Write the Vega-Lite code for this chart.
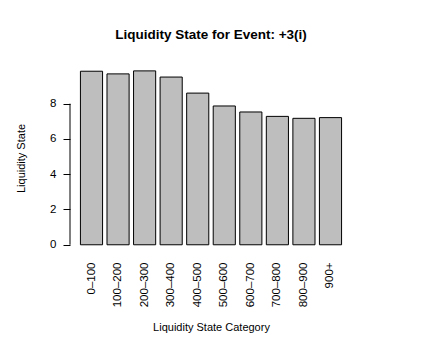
{
  "$schema": "https://vega.github.io/schema/vega-lite/v6.json",
  "width": 282,
  "height": 188,
  "autosize": "none",
  "padding": {"left": 70, "top": 64, "right": 71, "bottom": 101},
  "background": "white",
  "config": {"view": {"stroke": null}, "font": "Liberation Sans"},
  "title": {"text": "Liquidity State for Event: +3(i)", "font": "Liberation Sans", "fontSize": 13.5, "fontWeight": "bold", "color": "#000", "anchor": "middle", "baseline": "alphabetic", "offset": 12},
  "layer": [
    {
      "data": {"values": [
        {"category": "0–100", "value": 9.84},
        {"category": "100–200", "value": 9.69},
        {"category": "200–300", "value": 9.86},
        {"category": "300–400", "value": 9.51},
        {"category": "400–500", "value": 8.60},
        {"category": "500–600", "value": 7.87},
        {"category": "600–700", "value": 7.53},
        {"category": "700–800", "value": 7.28},
        {"category": "800–900", "value": 7.17},
        {"category": "900+", "value": 7.21}
      ]},
      "mark": {"type": "bar", "fill": "#BEBEBE", "stroke": "#000", "strokeWidth": 1},
      "encoding": {
        "x": {"field": "category", "type": "nominal", "sort": null,
          "scale": {"paddingInner": 0.1667, "paddingOuter": 0.393},
          "axis": {"title": "Liquidity State Category", "labelAngle": -90, "ticks": false, "domain": false, "labelPadding": 10,
            "labelFontSize": 11.5, "labelColor": "#000", "titleFontSize": 11, "titleFontWeight": "normal", "titleColor": "#000", "titlePadding": 15}},
        "y": {"field": "value", "type": "quantitative",
          "scale": {"domain": [-0.41, 10.25], "nice": false, "zero": false},
          "axis": {"title": "Liquidity State", "values": [0, 2, 4, 6, 8], "domain": false, "grid": false, "tickSize": 7, "tickColor": "#000",
            "labelAngle": 0, "labelPadding": 7, "labelFontSize": 11.5, "labelColor": "#000",
            "titleFontSize": 11, "titleFontWeight": "normal", "titleColor": "#000", "titlePadding": 23}},
        "y2": {"datum": 0}
      }
    },
    {
      "data": {"values": [{"lo": 0, "hi": 8}]},
      "mark": {"type": "rule", "color": "#000", "strokeWidth": 1},
      "encoding": {
        "x": {"datum": 0, "type": "quantitative", "scale": {"domain": [0, 1]}, "axis": null},
        "y": {"field": "lo", "type": "quantitative"},
        "y2": {"field": "hi"}
      }
    }
  ],
  "resolve": {"scale": {"x": "independent"}}
}
